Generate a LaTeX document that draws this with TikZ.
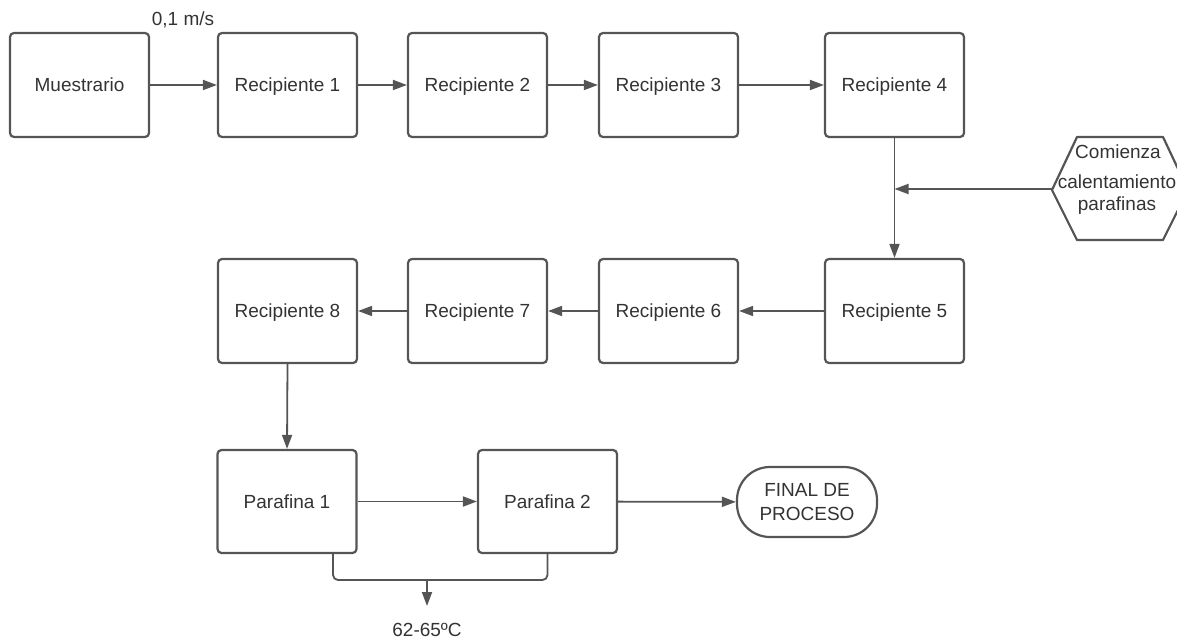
\documentclass[tikz,border=0pt]{standalone}
\usepackage{fontspec}
\setmainfont{Liberation Sans}
\usetikzlibrary{arrows.meta,shapes.geometric}
\definecolor{ln}{HTML}{555555}
\definecolor{tx}{HTML}{333333}
\begin{document}
\begin{tikzpicture}[x=1pt,y=-1pt,
  box/.style={draw=ln,line width=2.2pt,rounded corners=4pt,minimum width=139pt,minimum height=104pt,
    text=tx,font=\fontsize{19}{23}\selectfont,inner sep=0pt,text height=13.6pt,text depth=0pt},
  arr/.style={draw=ln,line width=1.8pt,-{Triangle[length=14pt,width=10pt]}},
  plain/.style={draw=ln,line width=1.8pt},
  lbl/.style={text=tx,font=\fontsize{19}{23}\selectfont,inner sep=0pt,text height=13.6pt,text depth=0pt}]
\useasboundingbox (0,0) rectangle (1177,639);
% row 1
\node[box] (m)  at (79.5,85) {Muestrario};
\node[box] (r1) at (287.5,85) {Recipiente 1};
\node[box] (r2) at (477.5,85) {Recipiente 2};
\node[box] (r3) at (668.5,85) {Recipiente 3};
\node[box] (r4) at (894.5,85) {Recipiente 4};
% row 2
\node[box] (r8) at (287.5,311) {Recipiente 8};
\node[box] (r7) at (477.5,311) {Recipiente 7};
\node[box] (r6) at (668.5,311) {Recipiente 6};
\node[box] (r5) at (894.5,311) {Recipiente 5};
% row 3
\node[box,minimum height=103pt] (p1) at (287,501.5) {Parafina 1};
\node[box,minimum height=103pt] (p2) at (547.5,501.5) {Parafina 2};
\node[draw=ln,line width=2.2pt,rounded corners=33pt,minimum width=140pt,minimum height=70pt,
  text=tx,font=\fontsize{19}{24}\selectfont,align=center,inner sep=0pt] (fin) at (807,502) {FINAL DE\\PROCESO};
% hexagon
\draw[ln,line width=2.2pt,line join=round] (1052,190) -- (1077,137) -- (1163,137) -- (1188,190) -- (1163,240) -- (1077,240) -- cycle;
\coordinate (hexl) at (1052,189);
\node[lbl] (h1) at (1118,152) {Comienza};
\node[lbl] (h2) at (1117,182) {calentamiento};
\node[lbl] (h3) at (1117,204) {parafinas};
% labels
\node[lbl] (v) at (183,19) {0,1 m/s};
% connectors
\draw[arr] (m) -- (r1);
\draw[arr] (r1) -- (r2);
\draw[arr] (r2) -- (r3);
\draw[arr] (r3) -- (r4);
\draw[arr] (r4) -- (r5);
\draw[arr] (hexl) -- (r4.south |- hexl);
\draw[arr] (r5) -- (r6);
\draw[arr] (r6) -- (r7);
\draw[arr] (r7) -- (r8);
\draw[arr] (r8.south) -- (p1.north);
\draw[arr] (p1) -- (p2);
\draw[arr] (p2) -- (fin);
% bracket
\coordinate (bl) at ([xshift=46pt]p1.south);
\coordinate (bm) at (427,580);
\coordinate (be) at (427,606);
\draw[plain,rounded corners=5pt] (bl) |- (bm) -| (p2.south);
\draw[arr] (bm) -- (be);
\node[lbl] (t) at (427,630) {62-65ºC};
\end{tikzpicture}
\end{document}
